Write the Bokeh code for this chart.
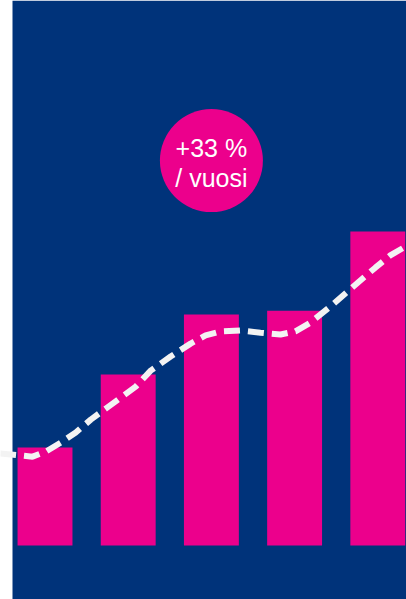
from bokeh.plotting import figure
from bokeh.models import BoxAnnotation, ColumnDataSource
from bokeh.core.properties import value
from bokeh.embed import file_html
from bokeh.resources import INLINE

# ---- data ----
categories = [0, 1, 2, 3, 4]
bar_values = [31.2, 54.5, 73.6, 74.8, 100.0]

trend_x = [-0.54, -0.29, -0.15, 0.01, 0.19, 0.37, 0.55, 0.73, 0.91, 1.09,
           1.27, 1.51, 1.75, 1.93, 2.11, 2.35, 2.59, 2.83, 3.01, 3.19,
           3.43, 3.61, 3.79, 3.97, 4.15, 4.35]
trend_y = [29.3, 28.7, 28.3, 29.9, 32.8, 36.0, 40.1, 43.6, 47.1, 50.6,
           55.7, 60.2, 64.3, 66.9, 68.2, 68.5, 67.8, 67.2, 68.2, 71.0,
           76.1, 80.3, 84.4, 88.5, 92.4, 95.5]

badge_lines = ["+33 %", "/ vuosi"]
badge_x = 2.0
badge_y = 122.6

BLUE = "#00337a"
PINK = "#ec008c"
LINE = "#f3f3f3"

p = figure(width=406, height=599, output_backend="svg", toolbar_location=None,
           x_range=(-0.535, 4.345), y_range=(-17.2, 173.6),
           x_axis_location=None, y_axis_location=None,
           min_border=0, min_border_left=0, min_border_right=0,
           min_border_top=0, min_border_bottom=0,
           margin=(0, 0, 0, 0))
p.background_fill_color = "white"
p.border_fill_color = "white"
p.outline_line_color = None
p.xgrid.visible = False
p.ygrid.visible = False

p.add_layout(BoxAnnotation(left=12, left_units="screen", fill_color=BLUE,
                           fill_alpha=1.0, line_color=None, level="underlay"))

src = ColumnDataSource(dict(x=categories, top=bar_values))
p.vbar(x="x", top="top", bottom=0, width=0.66, source=src,
       fill_color=PINK, line_color=None)

p.line(trend_x, trend_y, line_color=LINE, line_width=6, line_dash="16 8")

p.scatter([badge_x], [badge_y], size=103, fill_color=PINK, line_color=None)
p.text([badge_x], [badge_y], text=[badge_lines[0]], text_align="center",
       text_baseline="alphabetic", y_offset=-13,
       text_font=value("Liberation Sans"), text_font_size="25px",
       text_color="white")
p.text([badge_x], [badge_y], text=[badge_lines[1]], text_align="center",
       text_baseline="alphabetic", y_offset=17,
       text_font=value("Liberation Sans"), text_font_size="25px",
       text_color="white")

open("out.html", "w").write(file_html(p, INLINE))
